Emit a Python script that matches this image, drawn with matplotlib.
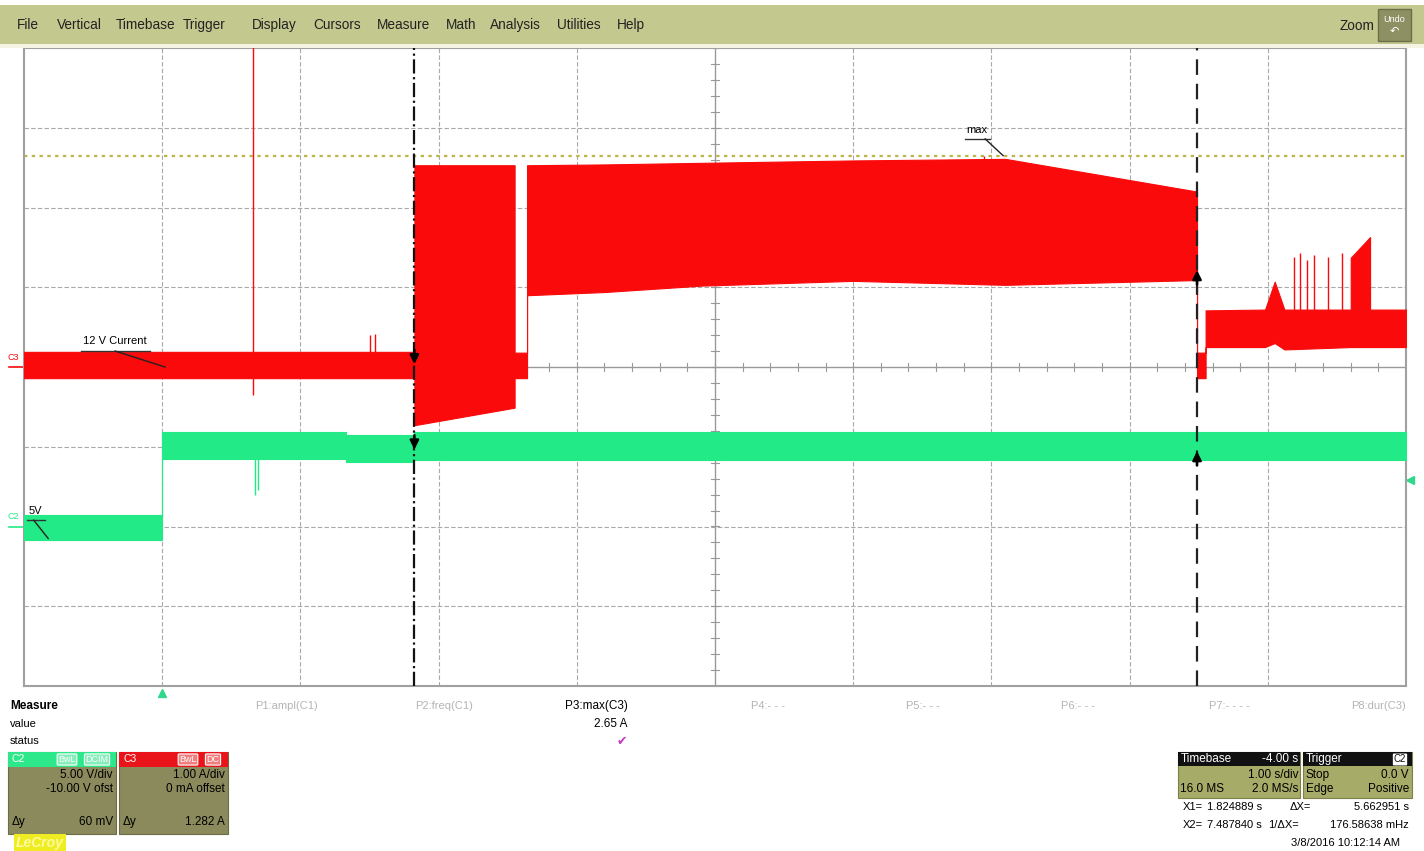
import numpy as np
import matplotlib.pyplot as plt
from matplotlib.patches import Rectangle

plt.rcParams['font.family'] = ['Liberation Sans', 'DejaVu Sans']

W, H = 1424, 851

# scope setup
t_left, t_right = -1.0, 9.0        # s, 1.00 s/div
c3_scale = 1.00                    # A/div
c2_scale = 5.00                    # V/div
c2_offset = -10.0                  # V
x1_cursor = 1.824889
x2_cursor = 7.487840
c3_max = 2.65

# C3, 12 V current envelope (s, A)
c3_t = [-1.0, x1_cursor, x1_cursor, 2.55, 2.55, 2.64, 2.64, 3.2, 3.9, 5.0, 6.1,
        x2_cursor, x2_cursor, 7.55, 7.55, 7.98, 8.05, 8.12, 8.60, 8.60, 8.74, 8.74, 9.0]
c3_hi = [0.19, 0.19, 2.53, 2.53, 0.18, 0.18, 2.53, 2.54, 2.56, 2.59, 2.61,
         2.20, 0.18, 0.18, 0.71, 0.72, 1.07, 0.72, 0.72, 1.37, 1.63, 0.72, 0.72]
c3_lo = [-0.14, -0.14, -0.73, -0.51, -0.14, -0.14, 0.90, 0.94, 1.02, 1.08, 1.03,
         1.09, -0.14, -0.14, 0.25, 0.25, 0.30, 0.22, 0.25, 0.25, 0.25, 0.25, 0.25]

# C3 glitches (s, A)
c3_spike_t = [0.658, 1.50, 1.54, 5.95, 8.19, 8.235, 8.285, 8.336, 8.437, 8.538]
c3_spike_hi = [5.0, 0.40, 0.42, 2.65, 1.38, 1.43, 1.34, 1.40, 1.38, 1.43]
c3_spike_lo = [-0.35, 0.10, 0.10, 2.40, 0.60, 0.60, 0.60, 0.60, 0.60, 0.60]

# C2, 5 V rail envelope (s, V)
c2_t = [-1.0, 0.0, 0.0, 1.33, 1.33, x1_cursor, x1_cursor, 9.0]
c2_hi = [0.70, 0.70, 5.90, 5.90, 5.75, 5.75, 5.90, 5.90]
c2_lo = [-0.85, -0.85, 4.25, 4.25, 4.05, 4.05, 4.20, 4.20]

c2_spike_t = [0.673, 0.695]
c2_spike_lo = [2.0, 2.3]
c2_spike_hi = [4.3, 4.3]

# cursor arrow tips (div)
x1_arrows = [0.0, -1.07]
x2_arrows = [1.25, -1.02]

menu_items = ['File', 'Vertical', 'Timebase', 'Trigger', 'Display', 'Cursors',
              'Measure', 'Math', 'Analysis', 'Utilities', 'Help']
menu_x = [17, 57, 116, 183, 252, 313, 377, 446, 490, 557, 617]

params = ['P1:ampl(C1)', 'P2:freq(C1)', 'P3:max(C3)', 'P4:- - -',
          'P5:- - -', 'P6:- - -', 'P7:- - - -', 'P8:dur(C3)']
params_right = [318, 473, 628, 785, 940, 1095, 1250, 1406]

RED = '#fa0a0a'
GREEN = '#22ea86'
GRID = '#a8a8a8'


def fx(px):
    return px / W


def fy(py):
    return 1 - py / H


def rect(x0, y0, x1, y1, color, ec='none', lw=0):
    fig.add_artist(Rectangle((fx(x0), fy(y1)), (x1 - x0) / W, (y1 - y0) / H,
                             facecolor=color, edgecolor=ec, linewidth=lw,
                             transform=fig.transFigure))


def txt(x, y, s, **kw):
    kw.setdefault('fontsize', 8.5)
    kw.setdefault('va', 'center')
    fig.text(fx(x), fy(y), s, **kw)


def c2_div(v):
    return (np.asarray(v) + c2_offset) / c2_scale


def c3_div(a):
    return np.asarray(a) / c3_scale


fig = plt.figure(figsize=(W / 100, H / 100), dpi=100)
fig.patch.set_facecolor('white')

# menu bar
rect(0, 5, W, 44, '#c2c88e')
rect(0, 44, W, 48, '#f3f4e4')
for name, x in zip(menu_items, menu_x):
    txt(x, 25, name, fontsize=9.8, color='#222222')
txt(1340, 26, 'Zoom', fontsize=9.8, color='#222222')
rect(1378, 9, 1411, 41, '#8c9062', ec='#6c7048', lw=1)
txt(1394.5, 19, 'Undo', fontsize=6.5, color='white', ha='center')
txt(1394.5, 31, '\u21b6', fontsize=8, color='white', ha='center',
    family='DejaVu Sans')

# scope grid
ax = fig.add_axes([fx(24), fy(686), 1382 / W, 638 / H])
ax.set_xlim(t_left, t_right)
ax.set_ylim(-4, 4)
ax.set_xticks([])
ax.set_yticks([])
for s in ax.spines.values():
    s.set_color('#a0a0a0')
    s.set_linewidth(1.5)

for t in range(0, 9):
    if t == 4:
        ax.axvline(t, color='#999999', lw=1.0, zorder=1)
    else:
        ax.axvline(t, color=GRID, lw=0.8, ls=(0, (4, 2)), zorder=1)
for d in range(-3, 4):
    if d == 0:
        ax.axhline(d, color='#999999', lw=1.0, zorder=1)
    else:
        ax.axhline(d, color=GRID, lw=0.8, ls=(0, (4, 2)), zorder=1)

for t in np.arange(t_left, t_right + 0.01, 0.2):
    ax.plot([t, t], [-0.05, 0.05], color='#999999', lw=0.8, zorder=1)
for d in np.arange(-4, 4.01, 0.2):
    ax.plot([3.97, 4.03], [d, d], color='#999999', lw=0.8, zorder=1)

# max level
ax.axhline(c3_div(c3_max), color='#bdb54a', lw=1.6, ls=(0, (1.5, 2)), zorder=2)

# traces
ax.fill_between(c2_t, c2_div(c2_lo), c2_div(c2_hi), color=GREEN, lw=0.8,
                edgecolor=GREEN, zorder=3)
ax.vlines(c2_spike_t, c2_div(c2_spike_lo), c2_div(c2_spike_hi), color=GREEN,
          lw=1.0, zorder=3)
ax.fill_between(c3_t, c3_div(c3_lo), c3_div(c3_hi), color=RED, lw=0.8,
                edgecolor=RED, zorder=4)
ax.vlines(c3_spike_t, c3_div(c3_spike_lo), c3_div(c3_spike_hi), color=RED,
          lw=1.0, zorder=4)

# cursors
ax.axvline(x1_cursor, color='#111111', lw=1.6, ls='-.', zorder=6)
ax.axvline(x2_cursor, color='#222222', lw=1.6, ls=(0, (7, 4)), zorder=6)
for y in x1_arrows:
    ax.annotate('', xy=(x1_cursor, y), xytext=(x1_cursor, y + 0.25),
                arrowprops=dict(arrowstyle='-|>', color='k', lw=1.8,
                                mutation_scale=13), zorder=7)
for y in x2_arrows:
    ax.annotate('', xy=(x2_cursor, y), xytext=(x2_cursor, y - 0.25),
                arrowprops=dict(arrowstyle='-|>', color='k', lw=1.8,
                                mutation_scale=13), zorder=7)

# trace labels
ax.text(-0.57, 0.29, '12 V Current', fontsize=8, zorder=8)
ax.plot([-0.59, -0.09], [0.2, 0.2], color='#333333', lw=1, zorder=8)
ax.plot([-0.34, 0.02], [0.2, 0.0], color='#222222', lw=1, zorder=8)
ax.text(-0.965, -1.84, '5V', fontsize=8, zorder=8)
ax.plot([-0.975, -0.85], [-1.92, -1.92], color='#333333', lw=1, zorder=8)
ax.plot([-0.93, -0.825], [-1.92, -2.15], color='#222222', lw=1, zorder=8)
ax.text(5.82, 2.94, 'max', fontsize=8, zorder=8)
ax.plot([5.81, 5.99], [2.86, 2.86], color='#333333', lw=1, zorder=8)
ax.plot([5.955, 6.085], [2.86, c3_div(c3_max)], color='#222222', lw=1, zorder=8)

# channel markers on the left edge
ax.text(-1.08, c3_div(0.0) + 0.09, 'C3', fontsize=6.5, color=RED, ha='center',
        clip_on=False)
ax.plot([-1.11, -1.01], [c3_div(0.0), c3_div(0.0)], color=RED, lw=1.2,
        clip_on=False)
ax.text(-1.08, c2_div(0.0) + 0.09, 'C2', fontsize=6.5, color=GREEN, ha='center',
        clip_on=False)
ax.plot([-1.11, -1.01], [c2_div(0.0), c2_div(0.0)], color=GREEN, lw=1.2,
        clip_on=False)
ax.plot(0, -4.09, marker='^', color='#2fd88a', ms=6, clip_on=False)
ax.plot(t_right + 0.03, -1.42, marker='<', color='#2fd88a', ms=6, clip_on=False)

# measure row
txt(10, 706, 'Measure', fontweight='bold')
txt(10, 724, 'value', fontsize=8)
txt(10, 741, 'status', fontsize=8)
for name, xr in zip(params, params_right):
    if name.startswith('P3'):
        txt(xr, 706, name, ha='right', color='black')
    else:
        txt(xr, 706, name, ha='right', color='#b4b4b4', fontsize=8)
txt(628, 724, '%.2f A' % c3_max, ha='right')
txt(622, 741, '\u2714', color='#c23bc2', ha='center', fontsize=9,
    family='DejaVu Sans')

# channel descriptors
rect(8, 752, 116, 834, '#8a8a5c', ec='#6d6d45', lw=0.8)
rect(8, 752, 116, 767, '#2de88a')
txt(12, 759, 'C2', color='white', fontsize=7.5)
txt(67, 759.5, 'BwL', color='white', fontsize=6.5, ha='center',
    bbox=dict(boxstyle='round,pad=0.12', fc='#86eebb', ec='white', lw=0.8))
txt(97, 759.5, 'DCIM', color='white', fontsize=6.5, ha='center',
    bbox=dict(boxstyle='round,pad=0.12', fc='#86eebb', ec='white', lw=0.8))
txt(113, 775, '5.00 V/div', ha='right')
txt(113, 789, '-10.00 V ofst', ha='right')
txt(12, 822, '\u0394y')
txt(113, 822, '60 mV', ha='right')

rect(119, 752, 228, 834, '#8a8a5c', ec='#6d6d45', lw=0.8)
rect(119, 752, 228, 767, '#e8141a')
txt(123, 759, 'C3', color='white', fontsize=7.5)
txt(188, 759.5, 'BwL', color='white', fontsize=6.5, ha='center',
    bbox=dict(boxstyle='round,pad=0.12', fc='#f07e7e', ec='white', lw=0.8))
txt(213, 759.5, 'DC', color='white', fontsize=6.5, ha='center',
    bbox=dict(boxstyle='round,pad=0.12', fc='#f07e7e', ec='white', lw=0.8))
txt(225, 775, '1.00 A/div', ha='right')
txt(225, 789, '0 mA offset', ha='right')
txt(123, 822, '\u0394y')
txt(225, 822, '1.282 A', ha='right')

txt(16, 843, 'LeCroy', fontsize=10, fontweight='bold', style='italic',
    color='#fcfa9c',
    bbox=dict(boxstyle='square,pad=0.12', fc='#efec22', ec='none'))

# timebase / trigger
rect(1178, 752, 1300, 798, '#a6ab68', ec='#7c8048', lw=0.8)
rect(1178, 752, 1300, 766, '#111111')
txt(1181, 759, 'Timebase', color='white')
txt(1298, 759, '-4.00 s', color='white', ha='right')
txt(1298, 775, '1.00 s/div', ha='right')
txt(1180, 789, '16.0 MS')
txt(1298, 789, '2.0 MS/s', ha='right')

rect(1303, 752, 1412, 798, '#a6ab68', ec='#7c8048', lw=0.8)
rect(1303, 752, 1412, 766, '#111111')
txt(1306, 759, 'Trigger', color='white')
txt(1400, 759.5, 'C2', color='#111111', fontsize=7, ha='center',
    bbox=dict(boxstyle='round,pad=0.1', fc='white', ec='none'))
txt(1306, 775, 'Stop')
txt(1409, 775, '0.0 V', ha='right')
txt(1306, 789, 'Edge')
txt(1409, 789, 'Positive', ha='right')

txt(1183, 807, 'X1=', fontsize=8)
txt(1262, 807, '%.6f s' % x1_cursor, ha='right', fontsize=8)
txt(1290, 807, '\u0394X=', fontsize=8)
txt(1409, 807, '%.6f s' % (x2_cursor - x1_cursor), ha='right', fontsize=8)
txt(1183, 825, 'X2=', fontsize=8)
txt(1262, 825, '%.6f s' % x2_cursor, ha='right', fontsize=8)
txt(1268, 825, '1/\u0394X=', fontsize=8)
txt(1409, 825, '%.5f mHz' % (1000.0 / (x2_cursor - x1_cursor)), ha='right',
    fontsize=8)
txt(1400, 843, '3/8/2016 10:12:14 AM', ha='right', fontsize=8)

fig.savefig('out.png', dpi=100)
